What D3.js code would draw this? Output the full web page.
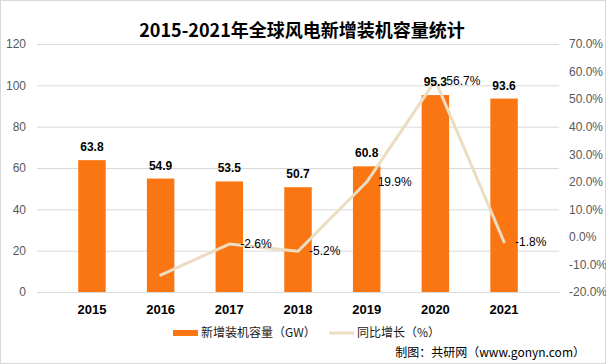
<!DOCTYPE html>
<html>
<head>
<meta charset="utf-8">
<script src="https://cdn.jsdelivr.net/npm/d3@7"></script>
<style>
  body { margin: 0; background: #fff; }
  svg { display: block; font-family: "Liberation Sans", "Noto Sans CJK SC", sans-serif; }
</style>
</head>
<body>
<svg></svg>
<script>
// data
const years = ["2015", "2016", "2017", "2018", "2019", "2020", "2021"];
const capacity = [63.8, 54.9, 53.5, 50.7, 60.8, 95.3, 93.6];
const growth = [null, -13.9, -2.6, -5.2, 19.9, 56.7, -1.8];
const growthLabels = ["", "", "-2.6%", "-5.2%", "19.9%", "56.7%", "-1.8%"];
const leftTicks = [0, 20, 40, 60, 80, 100, 120];
const rightTicks = [-20, -10, 0, 10, 20, 30, 40, 50, 60, 70];

const width = 606;
const height = 364;
const margin = ({top: 44, right: 47, bottom: 72, left: 37});

const barColor = "#fa7613";
const lineColor = "#ebdcc2";

const svg = d3.select("svg")
    .attr("width", width)
    .attr("height", height)
    .attr("viewBox", [0, 0, width, height]);

// outer frame
svg.append("rect")
    .attr("x", 0.5).attr("y", 0.5)
    .attr("width", width - 1).attr("height", height - 1)
    .attr("fill", "none")
    .attr("stroke", "#d9d9d9");

const x = d3.scaleBand()
    .domain(years)
    .range([margin.left, width - margin.right])
    .padding(0.6);

const y = d3.scaleLinear()
    .domain([0, 120])
    .range([height - margin.bottom, margin.top]);

const y2 = d3.scaleLinear()
    .domain([-20, 70])
    .range([height - margin.bottom, margin.top]);

// title
svg.append("text")
    .attr("x", 302)
    .attr("y", 37)
    .attr("text-anchor", "middle")
    .attr("font-family", "Noto Sans CJK SC")
    .attr("font-size", 18)
    .attr("font-weight", "bold")
    .attr("fill", "#000")
    .text("2015-2021年全球风电新增装机容量统计");

// grid + left axis
const yAxis = g => g
    .attr("transform", `translate(${margin.left},0)`)
    .call(d3.axisLeft(y).tickValues(leftTicks).tickSize(-(width - margin.left - margin.right)).tickPadding(11))
    .call(g => g.select(".domain").remove())
    .call(g => g.selectAll(".tick line").attr("stroke", "#d9d9d9"))
    .call(g => g.selectAll(".tick text")
        .attr("fill", "#595959")
        .attr("font-size", 12)
        .attr("font-family", "Liberation Sans"));

svg.append("g").call(yAxis);

// right axis, labels only
const yAxisRight = g => g
    .attr("transform", `translate(${width - margin.right},0)`)
    .call(d3.axisRight(y2).tickValues(rightTicks).tickSize(0).tickPadding(10).tickFormat(d => d.toFixed(1) + "%"))
    .call(g => g.select(".domain").remove())
    .call(g => g.selectAll(".tick text")
        .attr("fill", "#595959")
        .attr("font-size", 12)
        .attr("font-family", "Liberation Sans"));

svg.append("g").call(yAxisRight);

// bars
svg.append("g")
  .selectAll("rect")
  .data(capacity)
  .join("rect")
    .attr("x", (d, i) => x(years[i]))
    .attr("y", d => y(d))
    .attr("width", x.bandwidth())
    .attr("height", d => y(0) - y(d))
    .attr("fill", barColor);

// x axis
const xAxis = g => g
    .attr("transform", `translate(0,${height - margin.bottom})`)
    .call(d3.axisBottom(x).tickSize(0).tickPadding(13))
    .call(g => g.select(".domain").attr("stroke", "#d9d9d9"))
    .call(g => g.selectAll(".tick text")
        .attr("fill", "#000")
        .attr("font-size", 13)
        .attr("font-weight", "bold")
        .attr("font-family", "Liberation Sans"));

svg.append("g").call(xAxis);

// growth line
const cx = i => x(years[i]) + x.bandwidth() / 2;
const line = d3.line()
    .defined(d => d != null)
    .x((d, i) => cx(i))
    .y(d => y2(d));

svg.append("path")
    .datum(growth)
    .attr("fill", "none")
    .attr("stroke", lineColor)
    .attr("stroke-width", 3)
    .attr("stroke-linecap", "round")
    .attr("stroke-linejoin", "round")
    .attr("d", line);

// bar labels
svg.append("g")
  .selectAll("text")
  .data(capacity)
  .join("text")
    .attr("x", (d, i) => cx(i))
    .attr("y", d => y(d) - 9)
    .attr("text-anchor", "middle")
    .attr("font-size", 12)
    .attr("font-weight", "bold")
    .attr("fill", "#000")
    .text(d => d.toFixed(1));

// growth labels, right of the points
svg.append("g")
  .selectAll("text")
  .data(growth)
  .join("text")
    .attr("x", (d, i) => cx(i) + 11)
    .attr("y", d => d == null ? 0 : y2(d))
    .attr("dy", "0.35em")
    .attr("font-size", 12)
    .attr("fill", "#000")
    .text((d, i) => growthLabels[i]);

// legend
const legend = svg.append("g")
    .attr("font-family", "Noto Sans CJK SC")
    .attr("font-size", 12)
    .attr("fill", "#1a1a1a");

legend.append("rect")
    .attr("x", 173).attr("y", 330)
    .attr("width", 25).attr("height", 6)
    .attr("fill", barColor);

legend.append("text")
    .attr("x", 201).attr("y", 333)
    .attr("dy", "0.35em")
    .text("新增装机容量（GW）");

legend.append("line")
    .attr("x1", 329).attr("x2", 354)
    .attr("y1", 333).attr("y2", 333)
    .attr("stroke", lineColor)
    .attr("stroke-width", 3);

legend.append("text")
    .attr("x", 357).attr("y", 333)
    .attr("dy", "0.35em")
    .text("同比增长（%）");

// source
svg.append("text")
    .attr("x", 585).attr("y", 353)
    .attr("dy", "0.35em")
    .attr("text-anchor", "end")
    .attr("font-family", "Noto Sans CJK SC")
    .attr("font-size", 12)
    .attr("fill", "#000")
    .text("制图：共研网（www.gonyn.com）");
</script>
</body>
</html>
